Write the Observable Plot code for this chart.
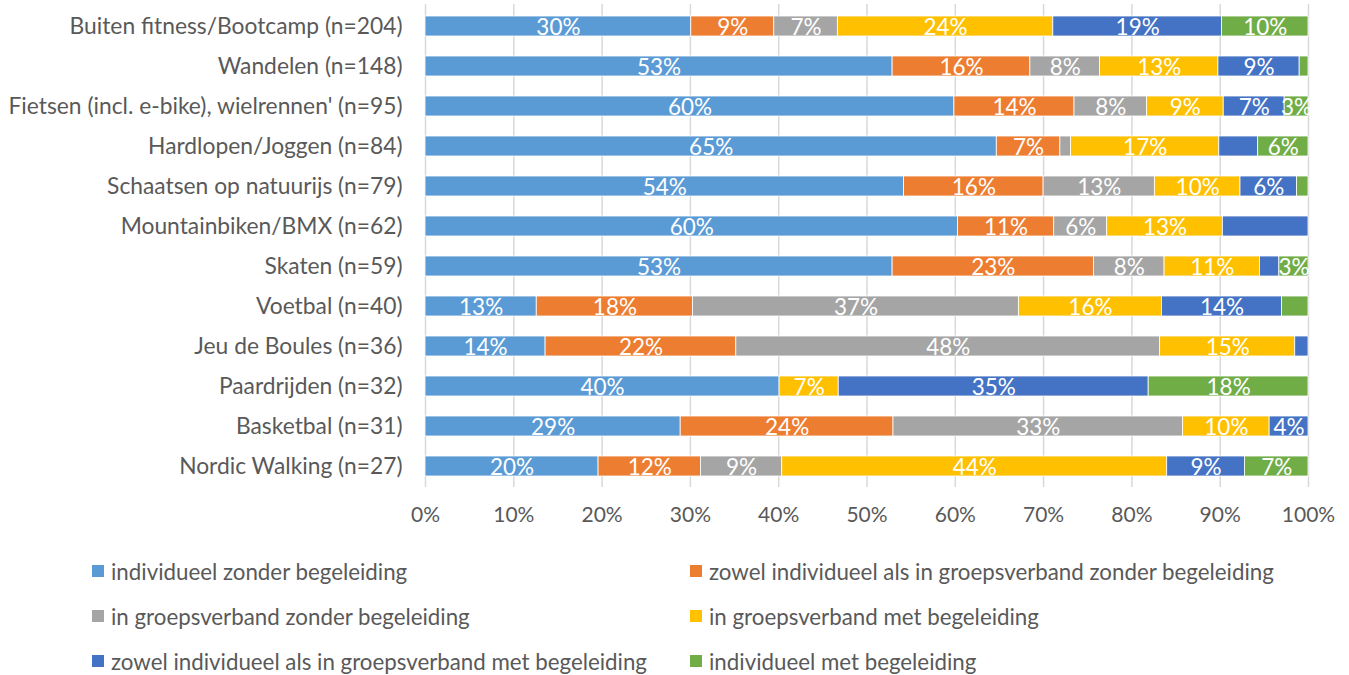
<!DOCTYPE html>
<html>
<head>
<meta charset="utf-8">
<script src="https://cdn.jsdelivr.net/npm/d3@7"></script>
<script src="https://cdn.jsdelivr.net/npm/@observablehq/plot@0.6"></script>
<style>
  html, body { margin: 0; padding: 0; background: #fff; }
  #wrap { width: 1349px; position: relative; font-family: Lato, "Open Sans", sans-serif; }
  #legend { position: relative; width: 1349px; height: 138px; }
  .item { position: absolute; display: flex; align-items: center; font-size: 22.3px; color: #595959; white-space: nowrap; }
  .sw { width: 12px; height: 12px; margin-right: 7px; }
</style>
</head>
<body>
<div id="wrap">
  <div id="chart"></div>
  <div id="legend"></div>
</div>
<script>
const categories = [
  "Buiten fitness/Bootcamp (n=204)",
  "Wandelen (n=148)",
  "Fietsen (incl. e-bike), wielrennen' (n=95)",
  "Hardlopen/Joggen (n=84)",
  "Schaatsen op natuurijs (n=79)",
  "Mountainbiken/BMX (n=62)",
  "Skaten (n=59)",
  "Voetbal (n=40)",
  "Jeu de Boules (n=36)",
  "Paardrijden (n=32)",
  "Basketbal (n=31)",
  "Nordic Walking (n=27)"
];

const series = [
  "individueel zonder begeleiding",
  "zowel individueel als in groepsverband zonder begeleiding",
  "in groepsverband zonder begeleiding",
  "in groepsverband met begeleiding",
  "zowel individueel als in groepsverband met begeleiding",
  "individueel met begeleiding"
];

const colors = ["#5B9BD5", "#ED7D31", "#A5A5A5", "#FFC000", "#4472C4", "#70AD47"];

// values in %, one per category (same order as categories)
const individueelZonder     = [30.1, 52.9, 59.9, 64.7, 54.2, 60.3, 52.9, 12.6, 13.6, 40.1, 28.9, 19.6];
const beideZonder           = [ 9.4, 15.6, 13.6,  7.2, 15.8, 10.9, 22.8, 17.7, 21.6,  0.0, 24.1, 11.6];
const groepZonder           = [ 7.2,  7.9,  8.2,  1.2, 12.6,  6.0,  8.0, 36.9, 48.0,  0.0, 32.8,  9.2];
const groepMet              = [24.4, 13.4,  8.7, 16.8,  9.7, 13.1, 10.8, 16.2, 15.3,  6.7,  9.8, 43.6];
const beideMet              = [19.1,  9.2,  6.9,  4.4,  6.4,  9.7,  2.2, 13.6,  1.5, 35.1,  4.4,  8.8];
const individueelMet        = [ 9.8,  1.0,  2.7,  5.7,  1.3,  0.0,  3.3,  3.0,  0.0, 18.1,  0.0,  7.2];

// data labels that are not shown in the original: [category index, series index]
const hiddenLabels = [[1, 5], [3, 2], [3, 4], [4, 5], [5, 4], [6, 4], [7, 5], [8, 4]];

const xTicks = [0, 10, 20, 30, 40, 50, 60, 70, 80, 90, 100];

const seriesValues = [individueelZonder, beideZonder, groepZonder, groepMet, beideMet, individueelMet];
const hiddenSet = new Set(hiddenLabels.map(([c, s]) => c + "-" + s));
const table = [];
categories.forEach((cat, i) => {
  seriesValues.forEach((arr, j) => {
    table.push({
      cat, series: series[j], value: arr[i],
      label: (arr[i] > 0 && !hiddenSet.has(i + "-" + j)) ? Math.round(arr[i]) + "%" : ""
    });
  });
});

const chart = Plot.plot({
  width: 1349,
  height: 537,
  marginLeft: 425,
  marginRight: 41,
  marginTop: 4,
  marginBottom: 50,
  style: { fontFamily: "Lato, 'Open Sans', sans-serif", background: "white" },
  x: { domain: [0, 100], label: null },
  y: { domain: categories, paddingInner: 0.5, paddingOuter: 0.25, label: null },
  color: { domain: series, range: colors },
  marks: [
    Plot.ruleX(xTicks, { stroke: "#d9d9d9", strokeWidth: 1.5 }),
    Plot.barX(table, Plot.stackX({ x: "value", y: "cat", fill: "series", order: null, stroke: "white", strokeWidth: 0.8 })),
    Plot.text(table, Plot.stackX({ x: "value", y: "cat", z: "series", order: null, text: "label", fill: "white", fontSize: 22.5, dy: 1 })),
    Plot.axisX({ ticks: xTicks, tickFormat: d => d + "%", tickSize: 0, tickPadding: 20, fontSize: 21, fill: "#595959", label: null }),
    Plot.axisY({ tickSize: 0, tickPadding: 23, fontSize: 22.8, fill: "#595959", label: null })
  ]
});
document.getElementById("chart").appendChild(chart);

const legend = document.getElementById("legend");
const colLeft = [92, 690];
const rowTop = [34, 79, 124];
series.forEach((s, i) => {
  const item = document.createElement("div");
  item.className = "item";
  item.style.left = colLeft[i % 2] + "px";
  item.style.top = (rowTop[Math.floor(i / 2)] - 12) + "px";
  item.style.height = "24px";
  const sw = document.createElement("span");
  sw.className = "sw";
  sw.style.background = colors[i];
  item.appendChild(sw);
  const t = document.createElement("span");
  t.textContent = s;
  item.appendChild(t);
  legend.appendChild(item);
});
</script>
</body>
</html>
